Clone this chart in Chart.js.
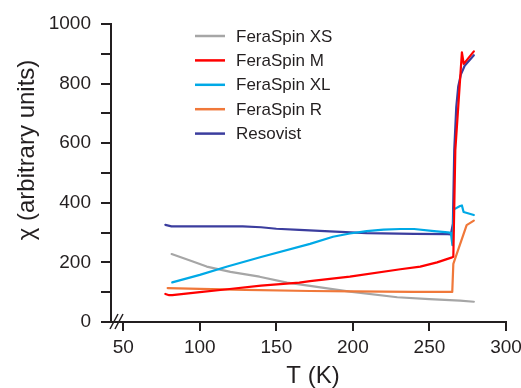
<!DOCTYPE html>
<html>
<head>
<meta charset="utf-8">
<script src="https://cdn.jsdelivr.net/npm/chart.js@4"></script>
<style>
  html, body { margin: 0; padding: 0; background: #fff; }
</style>
</head>
<body>
<canvas id="chiChart" width="521" height="388"></canvas>
<script>
// values: temperature (K) and susceptibility (arb. units)
const xsTemp = [81.6, 95, 104.5, 120, 139, 157, 172, 198, 229, 250, 270, 279];
const xsChi  = [228, 204, 186, 168, 152, 132, 121, 102, 83, 77, 71.5, 68];

const mTemp = [77.5, 80, 82, 100, 118, 140, 165, 172, 198, 231, 244, 255, 264.8, 265.6, 266.9, 271.2, 272.4, 279];
const mChi  = [94, 90, 90, 100, 110, 122, 132, 137, 152, 177, 186, 200, 217, 219, 577, 905, 866, 908];

const xlTemp = [82, 100, 118, 140, 172, 187, 198, 209, 220, 231, 240, 253, 262, 264, 265, 266, 270, 271.2, 272.3, 279];
const xlChi  = [133, 158, 186, 218, 262, 286, 297, 305, 310, 312, 312, 305, 301, 299, 258, 378, 389, 391, 369, 359];

const rTemp = [79, 100, 130, 172, 200, 240, 264.9, 265.6, 274.3, 279];
const rChi  = [114, 111, 108, 104, 103, 101, 101, 195, 325, 340];

const resTemp = [77.5, 81.5, 100, 128, 140, 150, 165, 185, 209, 240, 262, 264, 265.3, 266.2, 267.5, 268.8, 270.5, 273, 279];
const resChi  = [326, 321, 321, 321, 318, 313, 309, 304, 298, 296, 295, 294, 330, 577, 720, 790, 830, 860, 895];

const seriesNames = ["FeraSpin XS", "FeraSpin M", "FeraSpin XL", "FeraSpin R", "Resovist"];
const tempTicks = [50, 100, 150, 200, 250, 300];
const chiTicks = [0, 100, 200, 300, 400, 500, 600, 700, 800, 900, 1000];
const chiLabels = ["0", "", "200", "", "400", "", "600", "", "800", "", "1000"];

const axisColor = "#231f20";
const fontFamily = "'Liberation Sans', Arial, sans-serif";

function toPoints(temps, chis) {
    return temps.map((t, i) => ({ x: t, y: chis[i] }));
}

// legend, axis titles and the axis break drawn straight onto the canvas
const decorPlugin = {
    id: "decor",
    afterDraw(chart) {
        const ctx = chart.ctx;
        const area = chart.chartArea;
        ctx.save();

        // axis break marks
        ctx.strokeStyle = axisColor;
        ctx.lineWidth = 1.5;
        [3, 8].forEach(dx => {
            ctx.beginPath();
            ctx.moveTo(area.left + dx - 4, area.bottom + 7);
            ctx.lineTo(area.left + dx + 4, area.bottom - 8);
            ctx.stroke();
        });

        // legend
        ctx.font = "17px " + fontFamily;
        ctx.textBaseline = "middle";
        ctx.textAlign = "left";
        chart.data.datasets.forEach((ds, i) => {
            const y = 36 + i * 24.4;
            ctx.strokeStyle = ds.borderColor;
            ctx.lineWidth = 2.5;
            ctx.beginPath();
            ctx.moveTo(195, y);
            ctx.lineTo(225, y);
            ctx.stroke();
            ctx.fillStyle = axisColor;
            ctx.fillText(ds.label, 236, y + 1);
        });

        // axis titles
        ctx.font = "24px " + fontFamily;
        ctx.textAlign = "center";
        ctx.fillText("T (K)", 313, 376);
        ctx.translate(27, 150);
        ctx.rotate(-Math.PI / 2);
        ctx.fillText("\u03c7 (arbitrary units)", 0, 0);
        ctx.restore();
    }
};

new Chart(
    document.getElementById("chiChart"),
    {
        type: "line",
        data: {
            datasets: [
                { label: seriesNames[0], data: toPoints(xsTemp, xsChi), borderColor: "#a6a6a6", order: 3 },
                { label: seriesNames[1], data: toPoints(mTemp, mChi), borderColor: "#ff0000", order: 0 },
                { label: seriesNames[2], data: toPoints(xlTemp, xlChi), borderColor: "#00a9e6", order: 1 },
                { label: seriesNames[3], data: toPoints(rTemp, rChi), borderColor: "#f0783a", order: 2 },
                { label: seriesNames[4], data: toPoints(resTemp, resChi), borderColor: "#3b3d9e", order: 4 }
            ]
        },
        options: {
            responsive: false,
            animation: false,
            layout: { padding: { top: 24, right: 15, left: 0, bottom: 0 } },
            plugins: {
                legend: { display: false },
                tooltip: { enabled: false }
            },
            elements: {
                point: { radius: 0 },
                line: {
                    borderWidth: 2.2,
                    tension: 0,
                    fill: false,
                    borderJoinStyle: "round",
                    borderCapStyle: "round"
                }
            },
            scales: {
                x: {
                    type: "linear",
                    min: 42,
                    max: 300,
                    afterBuildTicks: scale => { scale.ticks = tempTicks.map(v => ({ value: v })); },
                    afterFit: scale => {
                        scale.height = 66;
                        scale.paddingRight = 0;
                        scale.paddingLeft = 0;
                    },
                    grid: { drawOnChartArea: false, tickLength: 9, color: axisColor, lineWidth: 2 },
                    border: { color: axisColor, width: 2 },
                    ticks: { color: axisColor, font: { family: fontFamily, size: 19 }, padding: 5, maxRotation: 0, autoSkip: false }
                },
                y: {
                    type: "linear",
                    min: 0,
                    max: 1000,
                    afterBuildTicks: scale => { scale.ticks = chiTicks.map(v => ({ value: v })); },
                    afterFit: scale => {
                        scale.width = 111;
                        scale.paddingTop = 0;
                        scale.paddingBottom = 0;
                    },
                    grid: { drawOnChartArea: false, tickLength: 10, color: axisColor, lineWidth: 2 },
                    border: { color: axisColor, width: 2 },
                    ticks: {
                        color: axisColor,
                        font: { family: fontFamily, size: 19 },
                        padding: 10,
                        autoSkip: false,
                        callback: function (value, index) {
                            return chiLabels[index];
                        }
                    }
                }
            }
        },
        plugins: [decorPlugin]
    }
);
</script>
</body>
</html>
